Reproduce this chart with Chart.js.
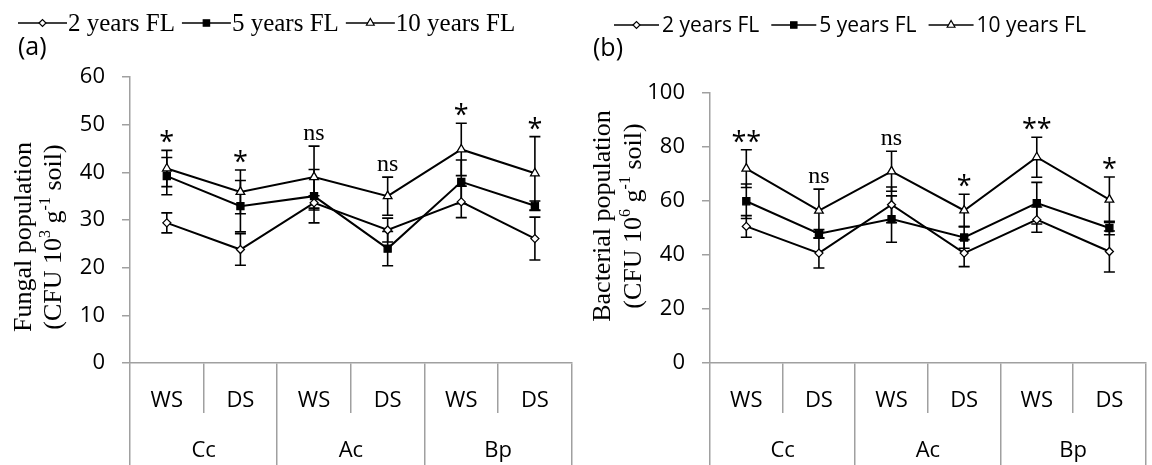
<!DOCTYPE html>
<html>
<head>
<meta charset="utf-8">
<script src="https://cdn.jsdelivr.net/npm/chart.js@4.4.0/dist/chart.umd.min.js"></script>
<style>
  html, body { margin: 0; padding: 0; background: #fff; }
  #wrap { position: relative; width: 1152px; height: 465px; overflow: hidden; }
  .box { position: absolute; top: 0; height: 465px; }
</style>
</head>
<body>
<div id="wrap">
  <div class="box" style="left:0;width:578px"><canvas id="chartA"></canvas></div>
  <div class="box" style="left:576px;width:576px"><canvas id="chartB"></canvas></div>
</div>
<script>
// categories
const seasons = ['WS', 'DS', 'WS', 'DS', 'WS', 'DS'];
const species = ['Cc', 'Ac', 'Bp'];
const seriesNames = ['2 years FL', '5 years FL', '10 years FL'];

// (a) fungal population, CFU 10^3 g-1 soil
const fungal2 = [29.4, 23.8, 33.6, 27.9, 33.8, 26.1];
const fungal5 = [39.2, 32.9, 35.0, 24.0, 38.0, 33.0];
const fungal10 = [40.8, 35.9, 39.0, 35.0, 44.8, 39.8];
const fungal2Err = [2.1, 3.3, 1.5, 2.5, 3.3, 4.5];
const fungal5Err = [3.9, 5.4, 5.6, 3.6, 4.6, 1.0];
const fungal10Err = [3.8, 4.6, 6.5, 4.0, 5.5, 7.7];
const fungalSig = ['*', '*', 'ns', 'ns', '*', '*'];
const fungalTicks = [0, 10, 20, 30, 40, 50, 60];

// (b) bacterial population, CFU 10^6 g-1 soil
const bact2 = [50.6, 40.7, 58.6, 40.7, 53.1, 41.3];
const bact5 = [59.9, 47.9, 53.3, 46.5, 59.2, 50.0];
const bact10 = [72.0, 56.4, 71.0, 56.5, 76.2, 60.5];
const bact2Err = [4.0, 5.5, 6.6, 5.0, 4.7, 7.6];
const bact5Err = [6.4, 1.5, 8.6, 4.0, 7.7, 2.5];
const bact10Err = [7.0, 8.0, 7.4, 6.0, 7.4, 8.4];
const bactSig = ['**', 'ns', 'ns', '*', '**', '*'];
const bactTicks = [0, 20, 40, 60, 80, 100];

const GRAY = '#a0a0a0';
const SANS = '"Open Sans", sans-serif';
const SERIF = '"Liberation Serif", "Times New Roman", serif';

// marker looks for the three series
const markers = [
  { pointStyle: 'rectRot', radius: 4, fill: '#fff' },
  { pointStyle: 'rect', radius: 5, fill: '#000' },
  { pointStyle: 'triangle', radius: 5, fill: '#fff' }
];

function makeDatasets(seriesList, errList) {
  return seriesList.map((vals, i) => ({
    label: seriesNames[i],
    data: vals,
    errors: errList[i],
    borderColor: '#000',
    borderWidth: 2,
    tension: 0,
    pointStyle: markers[i].pointStyle,
    pointRadius: markers[i].radius,
    pointHoverRadius: markers[i].radius,
    pointBackgroundColor: markers[i].fill,
    pointBorderColor: '#000',
    pointBorderWidth: 1.3
  }));
}

// text with superscripts, centred on (0,0)
function drawRich(ctx, segs, size, family) {
  const supSize = Math.round(size * 0.62);
  let total = 0;
  segs.forEach(s => {
    ctx.font = (s.sup ? supSize : size) + 'px ' + family;
    s.w = ctx.measureText(s.t).width;
    total += s.w;
  });
  let x = -total / 2;
  ctx.textAlign = 'left';
  ctx.textBaseline = 'alphabetic';
  segs.forEach(s => {
    ctx.font = (s.sup ? supSize : size) + 'px ' + family;
    ctx.fillText(s.t, x, s.sup ? size * 0.3 - size * 0.42 : size * 0.3);
    x += s.w;
  });
}

const extras = {
  id: 'extras',
  beforeDatasetsDraw(chart, args, opts) {
    // error bars, under the markers
    const ctx = chart.ctx, xs = chart.scales.x, ys = chart.scales.y;
    ctx.save();
    ctx.strokeStyle = '#000';
    ctx.lineWidth = 1.6;
    chart.data.datasets.forEach(ds => {
      ds.data.forEach((v, i) => {
        const e = ds.errors[i];
        const x = xs.getPixelForValue(i);
        const y1 = ys.getPixelForValue(v + e), y2 = ys.getPixelForValue(v - e);
        ctx.beginPath();
        ctx.moveTo(x, y1); ctx.lineTo(x, y2);
        ctx.moveTo(x - 5.5, y1); ctx.lineTo(x + 5.5, y1);
        ctx.moveTo(x - 5.5, y2); ctx.lineTo(x + 5.5, y2);
        ctx.stroke();
      });
    });
    ctx.restore();
  },
  afterDraw(chart, args, opts) {
    const ctx = chart.ctx, xs = chart.scales.x, ys = chart.scales.y;
    ctx.save();
    ctx.fillStyle = '#000';

    // significance labels above the highest error bar
    opts.sig.forEach((s, i) => {
      let top = 0;
      chart.data.datasets.forEach(ds => { top = Math.max(top, ds.data[i] + ds.errors[i]); });
      const x = xs.getPixelForValue(i);
      const y = ys.getPixelForValue(top);
      ctx.textAlign = 'center';
      ctx.textBaseline = 'alphabetic';
      if (s === 'ns') {
        ctx.font = '24px ' + SERIF;
        ctx.fillText(s, x, y - 6);
      } else {
        ctx.font = '27px ' + SANS;
        ctx.fillText(s, x, y + 1);
      }
    });

    // legend: line - marker - line, then the name
    const lg = opts.legend;
    let lx = lg.x;
    ctx.font = lg.font;
    chart.data.datasets.forEach((ds, i) => {
      ctx.strokeStyle = '#000';
      ctx.lineWidth = 1.5;
      ctx.beginPath();
      ctx.moveTo(lx, lg.y); ctx.lineTo(lx + lg.lineLen, lg.y);
      ctx.stroke();
      ctx.fillStyle = markers[i].fill;
      ctx.lineWidth = 1.2;
      Chart.helpers.drawPoint(ctx, {
        pointStyle: markers[i].pointStyle,
        radius: markers[i].radius - 0.5,
        rotation: 0,
        borderWidth: 1.2
      }, lx + lg.lineLen / 2, lg.y);
      ctx.fillStyle = '#000';
      ctx.font = lg.font;
      ctx.textAlign = 'left';
      ctx.textBaseline = 'middle';
      const tx = lx + lg.lineLen + lg.textGap;
      ctx.fillText(ds.label, tx, lg.y + 1);
      lx = tx + ctx.measureText(ds.label).width + lg.itemGap;
    });

    // panel letter
    ctx.font = '25px ' + SANS;
    ctx.textAlign = 'left';
    ctx.textBaseline = 'middle';
    ctx.fillText(opts.panel.text, opts.panel.x, opts.panel.y);

    // y axis title, two rotated lines
    opts.title.lines.forEach((segs, k) => {
      ctx.save();
      ctx.translate(opts.title.xs[k], opts.title.y);
      ctx.rotate(-Math.PI / 2);
      drawRich(ctx, segs, 26, SERIF);
      ctx.restore();
    });
    ctx.restore();
  }
};

function makeChart(id, datasets, yMax, ticks, yWidth, padTop, padRight, extraOpts) {
  return new Chart(document.getElementById(id), {
    type: 'line',
    data: { labels: seasons, datasets },
    options: {
      responsive: true,
      maintainAspectRatio: false,
      animation: false,
      events: [],
      layout: { padding: { top: padTop, right: padRight, left: 0, bottom: 0 } },
      plugins: {
        legend: { display: false },
        tooltip: { enabled: false },
        extras: extraOpts
      },
      scales: {
        x: {
          type: 'category',
          offset: true,
          weight: 0,
          grid: { offset: true, drawOnChartArea: false, tickLength: 50, color: GRAY, lineWidth: 1.5 },
          border: { color: GRAY, width: 1.5 },
          ticks: { color: '#000', font: { family: SANS, size: 22 }, padding: -25, maxRotation: 0, autoSkip: false },
          afterFit: s => { s.height = 50; }
        },
        x2: {
          type: 'category',
          labels: species,
          position: 'bottom',
          offset: true,
          weight: 1,
          grid: { offset: true, drawOnChartArea: false, tickLength: 52, color: GRAY, lineWidth: 1.5 },
          border: { display: false },
          ticks: { color: '#000', font: { family: SANS, size: 22 }, padding: -27, maxRotation: 0, autoSkip: false },
          afterFit: s => { s.height = 52; }
        },
        y: {
          min: 0,
          max: yMax,
          grid: { drawOnChartArea: false, tickLength: 8, color: GRAY, lineWidth: 1.5 },
          border: { color: GRAY, width: 1.5 },
          ticks: { color: '#000', font: { family: SANS, size: 22 }, padding: 17 },
          afterBuildTicks: s => { s.ticks = ticks.map(v => ({ value: v })); },
          afterFit: s => { s.width = yWidth; }
        }
      }
    },
    plugins: [extras]
  });
}

makeChart('chartA',
  makeDatasets([fungal2, fungal5, fungal10], [fungal2Err, fungal5Err, fungal10Err]),
  60, fungalTicks, 130, 77, 1, {
    sig: fungalSig,
    legend: { x: 18, y: 23, lineLen: 49, textGap: 1, itemGap: 7, font: '25px ' + SERIF },
    panel: { text: '(a)', x: 18, y: 48 },
    title: {
      xs: [23, 53], y: 237,
      lines: [
        [{ t: 'Fungal population' }],
        [{ t: '(CFU 10' }, { t: '3', sup: true }, { t: ' g' }, { t: '-1', sup: true }, { t: ' soil)' }]
      ]
    }
  });

makeChart('chartB',
  makeDatasets([bact2, bact5, bact10], [bact2Err, bact5Err, bact10Err]),
  100, bactTicks, 134, 93, 0, {
    sig: bactSig,
    legend: { x: 38, y: 25, lineLen: 45, textGap: 3, itemGap: 12, font: '21px ' + SANS },
    panel: { text: '(b)', x: 17, y: 49 },
    title: {
      xs: [26, 57], y: 216,
      lines: [
        [{ t: 'Bacterial population' }],
        [{ t: '(CFU 10' }, { t: '6', sup: true }, { t: ' g' }, { t: '-1', sup: true }, { t: ' soil)' }]
      ]
    }
  });
</script>
</body>
</html>
